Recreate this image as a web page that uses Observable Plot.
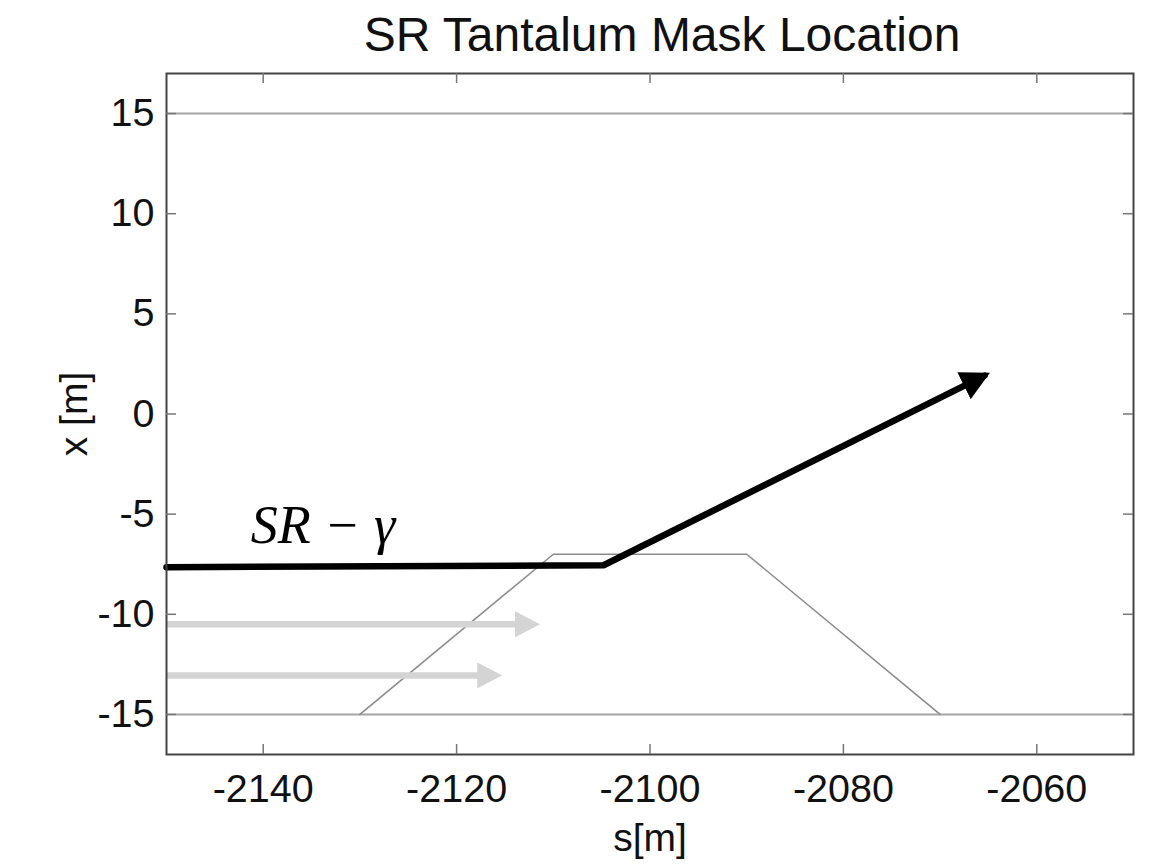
<!DOCTYPE html>
<html>
<head>
<meta charset="utf-8">
<script src="https://cdn.jsdelivr.net/npm/d3@7"></script>
<script src="https://cdn.jsdelivr.net/npm/@observablehq/plot@0.6"></script>
<style>
  body { margin: 0; background: #fff; }
  #wrap { position: relative; width: 1151px; height: 865px; }
  #title {
    position: absolute; left: 662px; top: 11px; transform: translateX(-50%);
    font-family: "Liberation Sans", Arial, sans-serif; font-size: 48px; line-height: 48px;
    white-space: nowrap; color: #111;
  }
  #chart { position: absolute; left: 0; top: 60px; }
</style>
</head>
<body>
<div id="wrap">
  <div id="title">SR Tantalum Mask Location</div>
  <div id="chart"></div>
</div>
<script>
// Axis extents and tick values
const sDomain = [-2150, -2050];
const xDomain = [-17, 17];
const sTicks = [-2140, -2120, -2100, -2080, -2060];
const xTicks = [-15, -10, -5, 0, 5, 10, 15];

// Tunnel walls
const wallX = [15, -15];

// Tantalum mask outline (trapezoid)
const maskS = [-2130, -2110, -2090, -2070];
const maskX = [-15, -7, -7, -15];

// Synchrotron radiation path
const srS = [-2150, -2104.8, -2065.4];
const srX = [-7.65, -7.55, 1.92];

// Incoming beams (grey arrows)
const beamS1 = [-2150, -2150];
const beamS2 = [-2112.0, -2115.9];
const beamX = [-10.5, -13.05];

// Path label
const srLabel = ["SR − γ"];
const srLabelS = [-2141.3];
const srLabelX = [-5.6];

const W = 1151, H = 805;
const mTop = 13, mBottom = 111, mLeft = 166, mRight = 18;
const frameH = H - mTop - mBottom;
const frameW = W - mLeft - mRight;
const tickLen = 10;
const font = "Liberation Sans, Arial, Helvetica, sans-serif";

// Filled triangular arrowhead; the tip sits a few pixels past the path end
function filledHead(len, half) {
  return (color) => {
    const ns = "http://www.w3.org/2000/svg";
    const m = document.createElementNS(ns, "marker");
    m.setAttribute("viewBox", `${-len + 6} ${-half} ${len} ${2 * half}`);
    m.setAttribute("markerUnits", "userSpaceOnUse");
    m.setAttribute("markerWidth", len);
    m.setAttribute("markerHeight", 2 * half);
    m.setAttribute("refX", 0);
    m.setAttribute("refY", 0);
    m.setAttribute("orient", "auto");
    const p = document.createElementNS(ns, "path");
    p.setAttribute("d", `M${-len + 6},${-half}L6,0L${-len + 6},${half}Z`);
    p.setAttribute("fill", color);
    p.setAttribute("stroke", "none");
    m.appendChild(p);
    return m;
  };
}

const maskPts = maskS.map((s, i) => ({s, x: maskX[i]}));
const srPts = srS.map((s, i) => ({s, x: srX[i]}));
const beams = beamX.map((x, i) => ({s1: beamS1[i], s2: beamS2[i], x}));
const fmt = d => String(d);

const chart = Plot.plot({
  width: W,
  height: H,
  marginTop: mTop,
  marginBottom: mBottom,
  marginLeft: mLeft,
  marginRight: mRight,
  style: {fontFamily: font, fontSize: "39px", background: "#fff", color: "#111"},
  x: {domain: sDomain},
  y: {domain: xDomain},
  marks: [
    Plot.ruleY(wallX, {y: d => d, stroke: "#a6a6a6", strokeWidth: 2}),
    Plot.line(maskPts, {x: "s", y: "x", stroke: "#8a8a8a", strokeWidth: 1.5}),
    Plot.link(beams, {
      x1: "s1", x2: "s2", y1: "x", y2: "x",
      stroke: "#d4d4d4", strokeWidth: 6.5, markerEnd: filledHead(25, 13)
    }),
    Plot.line(srPts, {
      x: "s", y: "x", stroke: "#000", strokeWidth: 6.5, strokeLinejoin: "miter",
      markerEnd: filledHead(29, 15)
    }),
    Plot.text(srLabel, {
      x: srLabelS, y: srLabelX, text: d => d, textAnchor: "start",
      fontFamily: "Liberation Serif, Times New Roman, serif", fontStyle: "italic",
      fontSize: 54, fill: "#000"
    }),
    Plot.frame({stroke: "#444", strokeWidth: 2}),
    // inward ticks on all four sides
    Plot.ruleX(sTicks, {x: d => d, insetTop: frameH - tickLen, stroke: "#777", strokeWidth: 1.5}),
    Plot.ruleX(sTicks, {x: d => d, insetBottom: frameH - tickLen, stroke: "#777", strokeWidth: 1.5}),
    Plot.ruleY(xTicks, {y: d => d, insetRight: frameW - tickLen, stroke: "#777", strokeWidth: 1.5}),
    Plot.ruleY(xTicks, {y: d => d, insetLeft: frameW - tickLen, stroke: "#777", strokeWidth: 1.5}),
    Plot.axisX(sTicks, {tickSize: 0, tickPadding: 19, fontSize: 39.5, tickFormat: fmt, label: null}),
    Plot.axisY(xTicks, {tickSize: 0, tickPadding: 12, fontSize: 39.5, tickFormat: fmt, label: null}),
    Plot.text(["s[m]"], {
      frameAnchor: "bottom", lineAnchor: "middle", dy: 84, text: d => d, fontSize: 39
    }),
    Plot.text(["x [m]"], {
      frameAnchor: "left", textAnchor: "middle", lineAnchor: "middle",
      dx: -92, rotate: -90, text: d => d, fontSize: 39
    })
  ]
});

document.getElementById("chart").appendChild(chart);
</script>
</body>
</html>
